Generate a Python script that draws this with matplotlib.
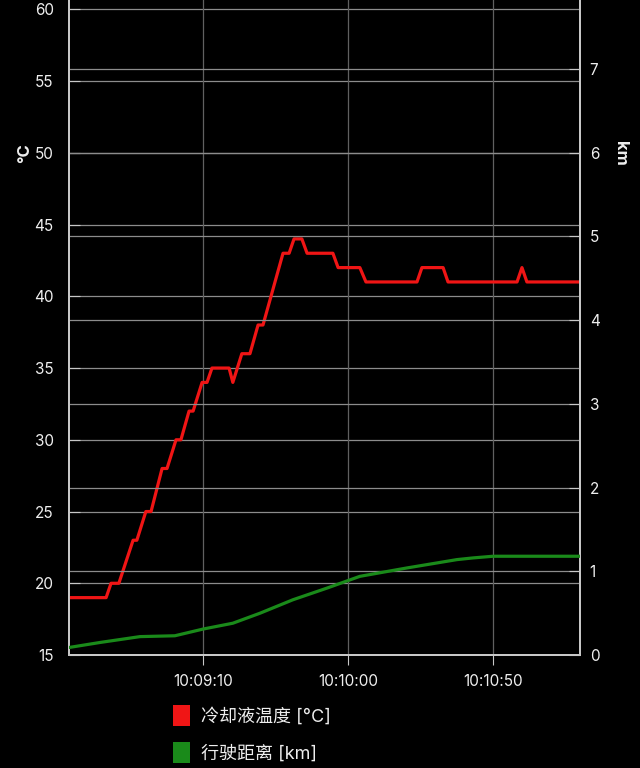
import matplotlib
matplotlib.use("Agg")
import matplotlib.pyplot as plt
from matplotlib.patches import Patch

plt.rcParams['font.family'] = ['Inter', 'Noto Sans CJK SC', 'DejaVu Sans']

# time in seconds after 10:00:00
temp_t = [503.8, 516.6, 518.3, 521.0, 525.9, 527.2, 530.3, 532.1, 535.9, 537.6,
          540.7, 542.4, 545.2, 546.6, 549.7, 551.4, 553.1, 559.0, 560.3, 563.4,
          566.2, 569.0, 570.7, 577.6, 579.7, 581.4, 584.1, 585.9, 594.8, 596.6,
          604.1, 606.2, 623.8, 625.5, 632.8, 634.5, 658.3, 660.0, 661.7, 680.0]
temp_c = [19, 19, 20, 20, 23, 23, 25, 25, 28, 28,
          30, 30, 32, 32, 34, 34, 35, 35, 34, 36,
          36, 38, 38, 43, 43, 44, 44, 43, 43, 42,
          42, 41, 41, 42, 42, 41, 41, 42, 41, 41]

dist_t = [503.8, 514.5, 528.3, 540.3, 550.0, 560.3, 569.7, 581.0, 592.8, 604.1,
          620.3, 637.6, 643.1, 650.0, 680.0]
dist_km = [0.09, 0.15, 0.22, 0.23, 0.31, 0.38, 0.50, 0.66, 0.80, 0.94,
           1.04, 1.14, 1.16, 1.18, 1.18]

x_ticks = [550, 600, 650]
x_labels = ["10:09:10", "10:10:00", "10:10:50"]

fig = plt.figure(figsize=(6.4, 7.68), dpi=100, facecolor='black')
ax = fig.add_axes([0.1078, 0.1471, 0.7984, 0.8529])
ax.set_facecolor('black')
ax2 = ax.twinx()

ax.set_xlim(503.8, 680)
ax.set_ylim(15, 60.65)
ax2.set_ylim(0, 7.825)

grid_col = '#8c8c8c'
for v in range(15, 61, 5):
    ax.axhline(v, color=grid_col, lw=0.9, zorder=0)
for v in range(0, 8):
    ax2.axhline(v, color=grid_col, lw=0.9, zorder=0)
for v in x_ticks:
    ax.axvline(v, color='#606060', lw=0.9, zorder=0)

ax.plot(temp_t, temp_c, color='#f01515', lw=2.3, zorder=3)
ax2.plot(dist_t, dist_km, color='#1a8a1a', lw=2.3, zorder=3)

ax.set_yticks(range(15, 61, 5))
ax2.set_yticks(range(0, 8))
ax.set_xticks(x_ticks)
ax.set_xticklabels(x_labels)

for a in (ax, ax2):
    for s in a.spines.values():
        s.set_color('#c8c8c8')
        s.set_linewidth(1.4)
    a.spines['top'].set_visible(False)
    a.tick_params(colors='#c8c8c8', labelcolor='#eeeeee', labelsize=11)
ax.tick_params(axis='y', direction='in', length=8, pad=11)
ax2.tick_params(axis='y', direction='in', length=8, pad=7)
ax.tick_params(axis='x', direction='out', length=7, pad=7)

fig.text(0.038, 0.80, "°C", color='#eeeeee', fontsize=12, fontweight='bold',
         rotation=90, ha='center', va='center')
fig.text(0.97, 0.80, "km", color='#eeeeee', fontsize=12, fontweight='bold',
         rotation=-90, ha='center', va='center')

handles = [Patch(facecolor='#f01515', edgecolor='none', label='冷却液温度 [°C]'),
           Patch(facecolor='#1a8a1a', edgecolor='none', label='行驶距离 [km]')]
fig.legend(handles=handles, loc='upper left', bbox_to_anchor=(0.2456, 0.1034),
           frameon=False, labelcolor='#eeeeee', fontsize=13,
           handlelength=0.9, handleheight=1.4, handletextpad=0.6,
           labelspacing=0.9)

fig.savefig("out.png", dpi=100, facecolor='black')
